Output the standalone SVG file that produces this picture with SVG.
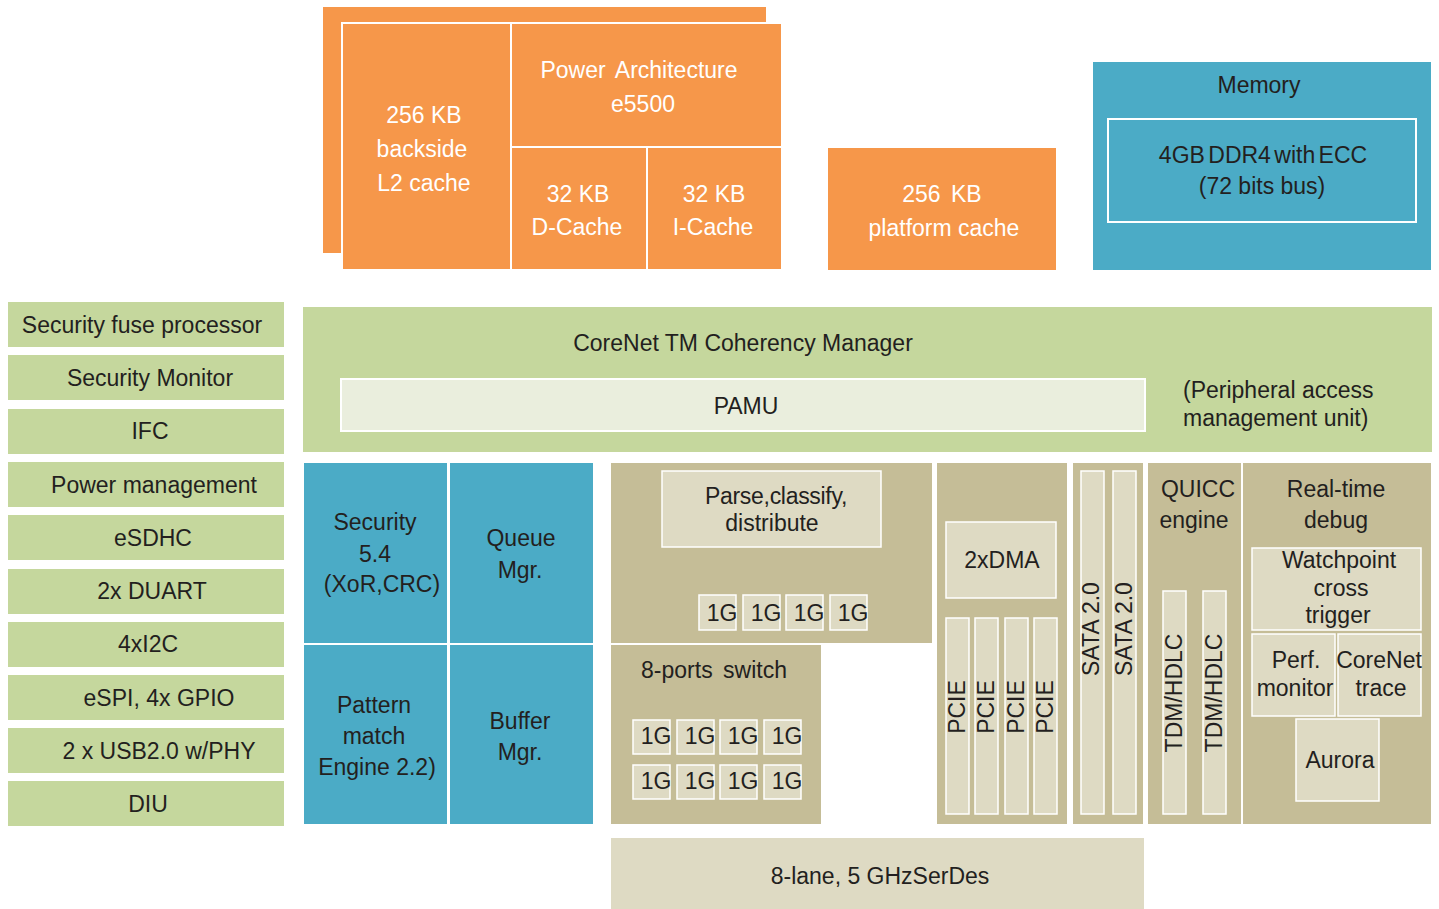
<svg xmlns="http://www.w3.org/2000/svg" width="1439" height="909" viewBox="0 0 1439 909">
<style>
text{font-family:"Liberation Sans",Arial,sans-serif;font-size:23px;fill:#231F20;text-anchor:middle}
.w{fill:#FFFFFF}
.or{fill:#F6974A}
.bl{fill:#4BABC6}
.gr{fill:#C5D79D}
.tn{fill:#C5BD97}
.lt{fill:#DEDAC3;stroke:#FFFFFF;stroke-width:1.5}
.pm{fill:#EAEEDD;stroke:#FFFFFF;stroke-width:2}
.div{stroke:#FFFFFF;stroke-width:2;fill:none}
</style>
<rect width="1439" height="909" fill="#FFFFFF"/>

<g id="core-block">
<rect class="or" x="323" y="7" width="443" height="246"/>
<rect class="or" x="342" y="23" width="440" height="247" stroke="#FFFFFF" stroke-width="2"/>
<path class="div" d="M511 23V270M511 147H782M647 147V270"/>
<text class="w" x="424" y="123">256 KB</text>
<text class="w" x="422" y="157">backside</text>
<text class="w" x="424" y="191">L2 cache</text>
<text class="w" x="639" y="78" word-spacing="4">Power Architecture</text>
<text class="w" x="643" y="112">e5500</text>
<text class="w" x="578" y="202">32 KB</text>
<text class="w" x="577" y="235">D-Cache</text>
<text class="w" x="714" y="202">32 KB</text>
<text class="w" x="713" y="235">I-Cache</text>
</g>

<g id="platform-cache">
<rect class="or" x="828" y="148" width="228" height="122"/>
<text class="w" x="942" y="202" word-spacing="4">256 KB</text>
<text class="w" x="944" y="236">platform cache</text>
</g>

<g id="memory">
<rect class="bl" x="1093" y="62" width="338" height="208"/>
<rect x="1108" y="119" width="308" height="103" fill="none" stroke="#FFFFFF" stroke-width="2"/>
<text x="1259" y="93">Memory</text>
<text x="1263" y="163" word-spacing="-3">4GB DDR4 with ECC</text>
<text x="1262" y="194">(72 bits bus)</text>
</g>

<g id="left-peripherals">
<g id="sfp"><rect class="gr" x="8" y="302" width="276" height="45"/><text x="142" y="333">Security fuse processor</text></g>
<g id="secmon"><rect class="gr" x="8" y="355" width="276" height="45"/><text x="150" y="386">Security Monitor</text></g>
<g id="ifc"><rect class="gr" x="8" y="409" width="276" height="45"/><text x="150" y="439">IFC</text></g>
<g id="pwr"><rect class="gr" x="8" y="462" width="276" height="45"/><text x="154" y="493">Power management</text></g>
<g id="esdhc"><rect class="gr" x="8" y="515" width="276" height="45"/><text x="153" y="546">eSDHC</text></g>
<g id="duart"><rect class="gr" x="8" y="569" width="276" height="45"/><text x="152" y="599">2x DUART</text></g>
<g id="i2c"><rect class="gr" x="8" y="622" width="276" height="45"/><text x="148" y="652">4xI2C</text></g>
<g id="espi"><rect class="gr" x="8" y="675" width="276" height="45"/><text x="159" y="706">eSPI, 4x GPIO</text></g>
<g id="usb"><rect class="gr" x="8" y="728" width="276" height="45"/><text x="159" y="759">2 x USB2.0 w/PHY</text></g>
<g id="diu"><rect class="gr" x="8" y="781" width="276" height="45"/><text x="148" y="812">DIU</text></g>
</g>

<g id="corenet">
<rect class="gr" x="303" y="307" width="1129" height="145"/>
<text x="743" y="351">CoreNet TM Coherency Manager</text>
<rect class="pm" x="341" y="379" width="804" height="52"/>
<text x="746" y="414">PAMU</text>
<text x="1183" y="398" text-anchor="start" style="text-anchor:start">(Peripheral access</text>
<text x="1183" y="426" style="text-anchor:start">management unit)</text>
</g>

<g id="accelerators">
<g id="security"><rect class="bl" x="304" y="463" width="143" height="180"/>
<text x="375" y="530">Security</text><text x="375" y="562">5.4</text><text x="382" y="592">(XoR,CRC)</text></g>
<g id="qman"><rect class="bl" x="450" y="463" width="143" height="180"/>
<text x="521" y="546">Queue</text><text x="520" y="578">Mgr.</text></g>
<g id="pme"><rect class="bl" x="304" y="645" width="143" height="179"/>
<text x="374" y="713">Pattern</text><text x="374" y="744">match</text><text x="377" y="775">Engine 2.2)</text></g>
<g id="bman"><rect class="bl" x="450" y="645" width="143" height="179"/>
<text x="520" y="729">Buffer</text><text x="520" y="760">Mgr.</text></g>
</g>

<g id="fman">
<rect class="tn" x="611" y="463" width="321" height="180"/>
<rect class="lt" x="662" y="471" width="219" height="76"/>
<text x="776" y="504" letter-spacing="-0.3">Parse,classify,</text>
<text x="772" y="531">distribute</text>
<rect class="lt" x="699" y="595" width="37" height="35"/><text x="722" y="621">1G</text>
<rect class="lt" x="743" y="595" width="37" height="35"/><text x="766" y="621">1G</text>
<rect class="lt" x="786" y="595" width="37" height="35"/><text x="809" y="621">1G</text>
<rect class="lt" x="830" y="595" width="37" height="35"/><text x="853" y="621">1G</text>
</g>

<g id="switch">
<rect class="tn" x="611" y="645" width="210" height="179"/>
<text x="714" y="678" word-spacing="4">8-ports switch</text>
<rect class="lt" x="633" y="720" width="37" height="34"/><text x="656" y="744">1G</text>
<rect class="lt" x="677" y="720" width="37" height="34"/><text x="700" y="744">1G</text>
<rect class="lt" x="720" y="720" width="37" height="34"/><text x="743" y="744">1G</text>
<rect class="lt" x="764" y="720" width="37" height="34"/><text x="787" y="744">1G</text>
<rect class="lt" x="633" y="765" width="37" height="34"/><text x="656" y="789">1G</text>
<rect class="lt" x="677" y="765" width="37" height="34"/><text x="700" y="789">1G</text>
<rect class="lt" x="720" y="765" width="37" height="34"/><text x="743" y="789">1G</text>
<rect class="lt" x="764" y="765" width="37" height="34"/><text x="787" y="789">1G</text>
</g>

<g id="dma-pcie">
<rect class="tn" x="937" y="463" width="130" height="361"/>
<rect class="lt" x="946" y="522" width="110" height="76"/>
<text x="1002" y="568">2xDMA</text>
<rect class="lt" x="946" y="618" width="23" height="196"/>
<rect class="lt" x="975" y="618" width="23" height="196"/>
<rect class="lt" x="1005" y="618" width="23" height="196"/>
<rect class="lt" x="1034" y="618" width="23" height="196"/>
<text transform="translate(965,707) rotate(-90)">PCIE</text>
<text transform="translate(994,707) rotate(-90)">PCIE</text>
<text transform="translate(1024,707) rotate(-90)">PCIE</text>
<text transform="translate(1053,707) rotate(-90)">PCIE</text>
</g>

<g id="sata">
<rect class="tn" x="1073" y="463" width="70" height="361"/>
<rect class="lt" x="1081" y="471" width="23" height="343"/>
<rect class="lt" x="1113" y="471" width="23" height="343"/>
<text transform="translate(1099,629) rotate(-90)">SATA 2.0</text>
<text transform="translate(1132,629) rotate(-90)">SATA 2.0</text>
</g>

<g id="quicc">
<rect class="tn" x="1148" y="463" width="93" height="361"/>
<text x="1198" y="497">QUICC</text>
<text x="1194" y="528">engine</text>
<rect class="lt" x="1163" y="591" width="23" height="223"/>
<rect class="lt" x="1203" y="591" width="23" height="223"/>
<text transform="translate(1182,693) rotate(-90)">TDM/HDLC</text>
<text transform="translate(1222,693) rotate(-90)">TDM/HDLC</text>
</g>

<g id="debug">
<rect class="tn" x="1243" y="463" width="188" height="361"/>
<text x="1336" y="497">Real-time</text>
<text x="1336" y="528">debug</text>
<rect class="lt" x="1252" y="548" width="169" height="82"/>
<text x="1339" y="568">Watchpoint</text>
<text x="1341" y="596">cross</text>
<text x="1338" y="623">trigger</text>
<rect class="lt" x="1252" y="634" width="83" height="82"/>
<text x="1296" y="668">Perf.</text>
<text x="1295" y="696">monitor</text>
<rect class="lt" x="1338" y="634" width="83" height="82"/>
<text x="1379" y="668">CoreNet</text>
<text x="1381" y="696">trace</text>
<rect class="lt" x="1296" y="719" width="83" height="82"/>
<text x="1340" y="768">Aurora</text>
</g>

<g id="serdes">
<rect x="611" y="838" width="533" height="71" fill="#DEDAC3"/>
<text x="880" y="884">8-lane, 5 GHzSerDes</text>
</g>

<g id="connectors"></g>
</svg>
